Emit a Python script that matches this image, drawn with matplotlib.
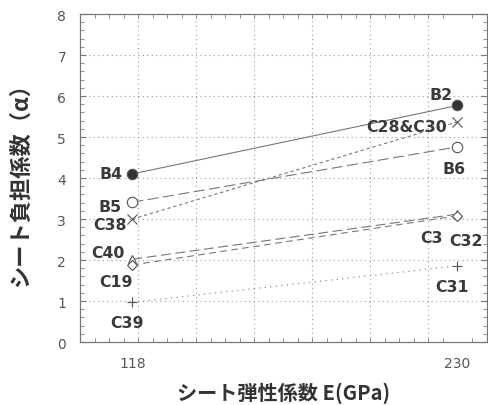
import matplotlib.pyplot as plt
from matplotlib.ticker import MultipleLocator
import numpy as np

# sheet elastic modulus E (GPa) and load-sharing factor alpha at each end
E = [118, 230]
names_118 = ['B4', 'C38', 'B5', 'C40', 'C19', 'C39']
names_230 = ['B2', 'C28&C30', 'B6', 'C3', 'C32', 'C31']
alpha_118 = [4.10, 3.00, 3.41, 2.02, 1.88, 0.97]
alpha_230 = [5.77, 5.37, 4.76, 3.12, 3.08, 1.86]
x_ticks = [118, 230]
y_ticks = [0, 1, 2, 3, 4, 5, 6, 7, 8]

# styles
markers = ['o', 'x', 'o', '^', 'D', '+']
fills = ['#333333', '#555555', 'white', 'white', 'white', '#555555']
msizes = [7.5, 7, 7.5, 5.5, 5, 7]
dashes = [(None, None), (3, 2.5), (10, 4), (9, 4), (6, 4), (1, 4)]
# label offsets in pixels: (dx, dy, ha) at 118 and 230
off_118 = [(-10, 0, 'right'), (-6, -5, 'right'), (-11, -4, 'right'),
           (-8, 7, 'right'), (0, -17, 'right'), (-5, -20, 'center')]
off_230 = [(-5, 11, 'right'), (-10, -5, 'right'), (-3, -22, 'center'),
           (-15, -23, 'right'), (9, -25, 'center'), (-5, -21, 'center')]

narrow = ['DejaVu Sans Condensed', 'Liberation Sans Narrow', 'DejaVu Sans']
lbl_font = dict(family=narrow, weight='bold', color='#3a3a3a', fontsize=11.3)
jp_font = ['Noto Sans CJK JP', 'DejaVu Sans']

fig = plt.figure(figsize=(4.88, 4.06), dpi=100)
ax = fig.add_axes([0.164, 0.155, 0.833, 0.808])

for i in range(len(names_118)):
    line, = ax.plot(E, [alpha_118[i], alpha_230[i]], color='#777777', lw=0.8,
                    marker=markers[i], ms=msizes[i], mfc=fills[i],
                    mec='#555555', mew=0.8, zorder=3)
    if dashes[i][0] is not None:
        line.set_dashes(dashes[i])
    for xv, yv, name, (dx, dy, ha) in [(E[0], alpha_118[i], names_118[i], off_118[i]),
                                      (E[1], alpha_230[i], names_230[i], off_230[i])]:
        ax.annotate(name, (xv, yv), xytext=(dx, dy), textcoords='offset pixels',
                    ha=ha, va='center', **lbl_font)

ax.set_xlim(100, 240)
ax.set_ylim(0, 8)
ax.set_xticks(x_ticks)
ax.set_xticklabels([str(v) for v in x_ticks])
ax.xaxis.set_minor_locator(MultipleLocator(5))
ax.set_yticks(y_ticks)
ax.yaxis.set_minor_locator(MultipleLocator(0.2))

for gx in np.arange(120, 240, 20):
    ax.axvline(gx, color='#999999', lw=0.8, ls=(0, (1, 3)), zorder=1)
for gy in y_ticks[1:-1]:
    ax.axhline(gy, color='#999999', lw=0.8, ls=(0, (1, 3)), zorder=1)

ax.tick_params(which='both', direction='in', top=True, right=True, color='#777777')
ax.tick_params(which='major', axis='x', length=0, pad=10)
ax.tick_params(which='major', axis='y', length=4, pad=10)
ax.tick_params(which='minor', length=3)
for lab in ax.get_xticklabels() + ax.get_yticklabels():
    lab.set_family(narrow)
    lab.set_fontsize(10)
    lab.set_color('#555555')
for s in ax.spines.values():
    s.set_color('#777777')
    s.set_linewidth(0.9)

ax.set_xlabel('シート弾性係数 E(GPa)', family=jp_font, weight='bold',
              fontsize=14.5, color='#333333', labelpad=8)
ax.set_ylabel('シート負担係数（α）', family=jp_font, weight='bold',
              fontsize=16, color='#333333', labelpad=18)

fig.savefig('out.png', dpi=100)
